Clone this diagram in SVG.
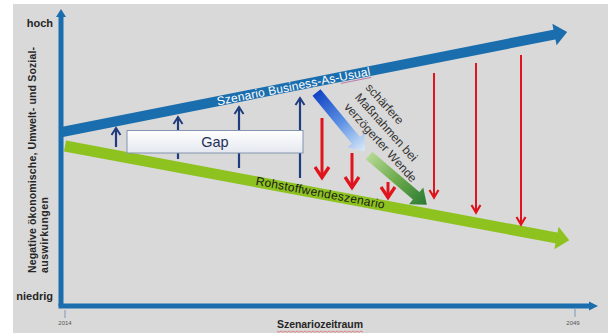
<svg xmlns="http://www.w3.org/2000/svg" width="608" height="333" viewBox="0 0 608 333">
  <defs>
    <style>
      .axis { stroke: #1b6ead; stroke-width: 5; fill: none; }
      .tick { stroke: #7c98b4; stroke-width: 1; }
      .lbl { font-family: "Liberation Sans", Arial, sans-serif; fill: #262626; }
      .bold { font-weight: bold; }
      .year { font-size: 6px; fill: #555; }
      .up { stroke: #1f3c7e; stroke-width: 2.2; fill: none; marker-end: url(#headUp); }
      .down { stroke: #e0141c; stroke-width: 3; fill: none; marker-end: url(#headDownBig); }
      .downThin { stroke: #e0141c; stroke-width: 2; fill: none; marker-end: url(#headDownSmall); }
    </style>
    <marker id="headUp" markerUnits="userSpaceOnUse" viewBox="-10 -6 12 12" markerWidth="12" markerHeight="12" refX="0" refY="0" orient="auto" overflow="visible">
      <path d="M-7,-4.5 L0,0 L-7,4.5" fill="none" stroke="#1f3c7e" stroke-width="2"/>
    </marker>
    <marker id="headDownBig" markerUnits="userSpaceOnUse" viewBox="-14 -9 16 18" markerWidth="16" markerHeight="18" refX="0" refY="0" orient="auto" overflow="visible">
      <path d="M-11,-7 L-0.5,0 L-11,7" fill="none" stroke="#e0141c" stroke-width="3.2"/>
    </marker>
    <marker id="headDownSmall" markerUnits="userSpaceOnUse" viewBox="-10 -6 12 12" markerWidth="12" markerHeight="12" refX="0" refY="0" orient="auto" overflow="visible">
      <path d="M-8,-4.5 L-0.5,0 L-8,4.5" fill="none" stroke="#e0141c" stroke-width="2.2"/>
    </marker>
    <linearGradient id="gapFill" x1="0" y1="0" x2="0" y2="1">
      <stop offset="0" stop-color="#ffffff"/>
      <stop offset="1" stop-color="#e4e8ef"/>
    </linearGradient>
    <!-- fades run along the arrow's own (rotated) x axis -->
    <linearGradient id="blueFade" gradientUnits="userSpaceOnUse" x1="0" y1="0" x2="76" y2="0">
      <stop offset="0" stop-color="#1244c4"/>
      <stop offset="0.5" stop-color="#5b8fe2"/>
      <stop offset="1" stop-color="#dcecfb"/>
    </linearGradient>
    <linearGradient id="greenFade" gradientUnits="userSpaceOnUse" x1="0" y1="0" x2="76" y2="0">
      <stop offset="0" stop-color="#b5d993"/>
      <stop offset="0.5" stop-color="#6aa84a"/>
      <stop offset="1" stop-color="#2a7a33"/>
    </linearGradient>
  </defs>

  <!-- canvas -->
  <rect x="0" y="0" width="608" height="333" fill="#ffffff"/>
  <rect x="13" y="4" width="595" height="329" fill="#d9d9d9"/>

  <!-- axes -->
  <g id="axes">
    <path class="axis" d="M61,306 L61,14"/>
    <polygon points="56,17 61,9 66,17" fill="#1b6ead"/>
    <path class="axis" d="M58.5,306 L591,306"/>
    <polygon points="589,301.5 598,306 589,310.5" fill="#1b6ead"/>
    <line class="tick" x1="65" y1="310" x2="65" y2="318"/>
    <line class="tick" x1="575" y1="309" x2="575" y2="317"/>
    <text class="lbl year" x="65" y="325" text-anchor="middle">2014</text>
    <text class="lbl year" x="573" y="325" text-anchor="middle">2049</text>
    <text class="lbl bold" x="320" y="328" font-size="10.5" text-anchor="middle" textLength="86">Szenariozeitraum</text>
    <polyline points="277,331 279,332.3 281,331 283,332.3 285,331 287,332.3 289,331 291,332.3 293,331 295,332.3 297,331 299,332.3 301,331 303,332.3 305,331 307,332.3 309,331 311,332.3 313,331 315,332.3 317,331 319,332.3 321,331 323,332.3 325,331 327,332.3 329,331 331,332.3 333,331 335,332.3 337,331 339,332.3 341,331 343,332.3 345,331 347,332.3 349,331 351,332.3 353,331 355,332.3 357,331 359,332.3 361,331 363,332.3" fill="none" stroke="#e06a6a" stroke-width="0.8"/>
    <text class="lbl bold" x="53" y="27" font-size="11" text-anchor="end">hoch</text>
    <text class="lbl bold" x="53" y="300" font-size="11" text-anchor="end">niedrig</text>
    <text class="lbl bold" font-size="10.5" transform="translate(36,273) rotate(-90)" textLength="226">Negative ökonomische, Umwelt- und Sozial-</text>
    <text class="lbl bold" font-size="10.5" transform="translate(47.5,273) rotate(-90)" textLength="76">auswirkungen</text>
  </g>

  <!-- business-as-usual scenario band -->
  <g id="bau" transform="translate(62,132) rotate(-11.2)">
    <line x1="0" y1="0" x2="503" y2="0" stroke="#1b6ead" stroke-width="10"/>
    <polygon points="502,-11 515,0 502,11" fill="#1b6ead"/>
    <text class="lbl" x="158" y="4.2" font-size="12" style="fill:#ffffff" textLength="156">Szenario Business-As-Usual</text>
    <line x1="283" y1="6.5" x2="314" y2="6.5" stroke="#b5609c" stroke-width="0.9" opacity="0.8"/>
  </g>

  <!-- raw-material transition scenario band -->
  <g id="rohstoff" transform="translate(65,146) rotate(10.6)">
    <line x1="0" y1="0" x2="501" y2="0" stroke="#8dc21f" stroke-width="11"/>
    <polygon points="500,-11.5 513,0 500,11.5" fill="#8dc21f"/>
    <text class="lbl" x="194" y="3" font-size="12" style="fill:#1a1a1a" textLength="131">Rohstoffwendeszenario</text>
  </g>

  <!-- gap arrows -->
  <g id="gap-arrows">
    <path class="up" d="M116,147 L116,128"/>
    <path class="up" d="M178,159 L178,117"/>
    <path class="up" d="M239,168 L239,107"/>
    <path class="up" d="M300,178 L300,98"/>
  </g>
  <g id="gap">
    <rect x="127" y="130.5" width="176" height="22.5" fill="url(#gapFill)" stroke="#8394b0" stroke-width="1"/>
    <text class="lbl" x="215" y="147" font-size="14.5" style="fill:#1f2f57" text-anchor="middle">Gap</text>
  </g>

  <!-- reductions -->
  <g id="reductions">
    <path class="down" d="M322,118 L322,178"/>
    <path class="down" d="M352,153 L352,188"/>
    <path class="down" d="M388,182 L388,198"/>
    <path class="downThin" d="M434,73 L434,198"/>
    <path class="downThin" d="M476,63 L476,213"/>
    <path class="downThin" d="M521,55 L521,225"/>
  </g>

  <!-- delayed transition -->
  <g id="delayed-blue" transform="translate(316.5,92.5) rotate(50.5)">
    <polygon points="0,-5.2 62,-5.2 62,-11 76,0 62,11 62,5.2 0,5.2" fill="url(#blueFade)"/>
  </g>
  <g id="delayed-green" transform="translate(369,155.5) rotate(40.5)">
    <polygon points="0,-5 62,-5 62,-11 76,0 62,11 62,5 0,5" fill="url(#greenFade)"/>
  </g>
  <g id="delayed-label" transform="translate(365,88) rotate(48)">
    <text class="lbl" font-size="12" style="fill:#333333">
      <tspan x="0" y="0">schärfere</tspan>
      <tspan x="0" y="14.5">Maßnahmen bei</tspan>
      <tspan x="0" y="29">verzögerter Wende</tspan>
    </text>
  </g>
</svg>
